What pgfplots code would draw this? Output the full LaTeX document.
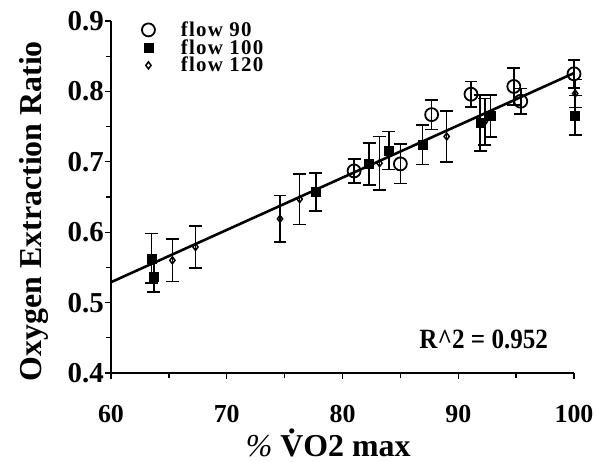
\documentclass[border=0pt]{standalone}
\usepackage{pgfplots}
\pgfplotsset{compat=1.18}
\usepackage{fontspec}
\setmainfont{Liberation Serif}
\newfontfamily\condfont[FakeStretch = 0.9]{Liberation Serif}
\newfontfamily\legfont[LetterSpace = 6]{Liberation Serif}

\pgfplotsset{
    ebars/.style = {
        error bars/.cd,
            y dir = both, y explicit,
            error bar style = {line width = 1.6pt},
            error mark options = {rotate = 90, mark size = 6.5pt, line width = 1.6pt}
    }
}
% V with a dot above it
\newcommand{\Vdot}{{\ooalign{V\cr\hidewidth\raisebox{0.72em}{.}\hidewidth\cr}}}

\begin{document}
\begin{tikzpicture}
    \begin{axis}[
        width = 463bp, height = 352bp,
        scale only axis,
        xmin = 60, xmax = 100,
        ymin = 0.4, ymax = 0.9,
        axis x line = bottom, axis y line = left,
        axis line style = {line width = 1.3pt, -},
        xtick = {60, 70, 80, 90, 100},
        minor xtick = {65, 75, 85, 95},
        ytick = {0.4, 0.5, 0.6, 0.7, 0.8, 0.9},
        minor ytick = {0.45, 0.55, 0.65, 0.75, 0.85},
        tick align = outside,
        major tick length = 6bp, minor tick length = 5bp,
        tick style = {line width = 1.3pt, black},
        /pgf/number format/assume math mode = true,
        tick label style = {font = \fontsize{29}{29}\selectfont\bfseries},
        yticklabel style = {inner xsep = 1bp,
            /pgf/number format/.cd, fixed, precision = 1, zerofill},
        xticklabel style = {anchor = base, yshift = -43bp,
            font = \fontsize{26}{26}\selectfont\bfseries},
        xlabel = {\textit{\%} \textbf{\Vdot O2 max}},
        ylabel = {\textbf{Oxygen Extraction Ratio}},
        label style = {font = \fontsize{32}{32}\selectfont},
        ylabel style = {at = {(rel axis cs:-0.167, 0.46)}, anchor = center},
        xlabel style = {at = {(rel axis cs:0.469, -0.236)}, anchor = base},
        clip = false,
        legend style = {
            at = {(axis cs:62.4, 0.902)}, anchor = north west,
            draw = none, fill = none,
            font = \fontsize{21}{21}\legfont\bfseries,
            nodes = {inner ysep = 0pt},
            row sep = 1.5bp,
            /tikz/column sep = 24bp,
            cells = {anchor = west}
        },
        legend cell align = left
    ]
        % flow 90: open circles
        \addplot[only marks, mark = o, mark size = 6.5pt, line width = 1.8pt, black, ebars]
            coordinates {
                (81.0, 0.687) +- (0, 0.017)
                (85.0, 0.697) +- (0, 0.028)
                (87.7, 0.767) +- (0, 0.021)
                (91.1, 0.796) +- (0, 0.018)
                (94.8, 0.807) +- (0, 0.026)
                (95.4, 0.786) +- (0, 0.018)
                (100.0, 0.825) +- (0, 0.020)
            };
        \addlegendentry{flow 90}
        % flow 100: filled squares
        \addplot[only marks, mark = square*, mark size = 4.5pt, black, ebars]
            coordinates {
                (63.5, 0.563) +- (0, 0.035)
                (63.7, 0.537) +- (0, 0.022)
                (77.7, 0.657) +- (0, 0.027)
                (82.3, 0.697) +- (0, 0.030)
                (84.0, 0.716) +- (0, 0.027)
                (86.9, 0.724) +- (0, 0.028)
                (91.9, 0.755) +- (0, 0.040)
                (92.8, 0.765) +- (0, 0.030)
                (100.1, 0.766) +- (0, 0.028)
            };
        \addlegendentry{flow 100}
        % flow 120: small open diamonds
        \addplot[only marks, mark = diamond, mark size = 3.5pt, line width = 1.5pt, black, ebars]
            coordinates {
                (65.3, 0.560) +- (0, 0.030)
                (67.3, 0.579) +- (0, 0.030)
                (74.6, 0.619) +- (0, 0.033)
                (76.3, 0.647) +- (0, 0.036)
                (83.2, 0.698) +- (0, 0.038)
                (89.0, 0.736) +- (0, 0.036)
                (92.3, 0.757) +- (0, 0.033)
                (100.1, 0.797) +- (0, 0.020)
            };
        \addlegendentry{flow 120}
        % regression line
        \addplot[black, line width = 2.6pt, forget plot]
            coordinates {(60, 0.529) (100, 0.826)};
        \node[font = \fontsize{28}{28}\condfont\bfseries]
            at (axis cs:92.2, 0.448) {R\textasciicircum 2 = 0.952};
    \end{axis}
    \pgfresetboundingbox
    \path ([shift = {(-111bp, -89bp)}]current axis.south west)
        rectangle ([shift = {(20bp, 21bp)}]current axis.north east);
\end{tikzpicture}
\end{document}
